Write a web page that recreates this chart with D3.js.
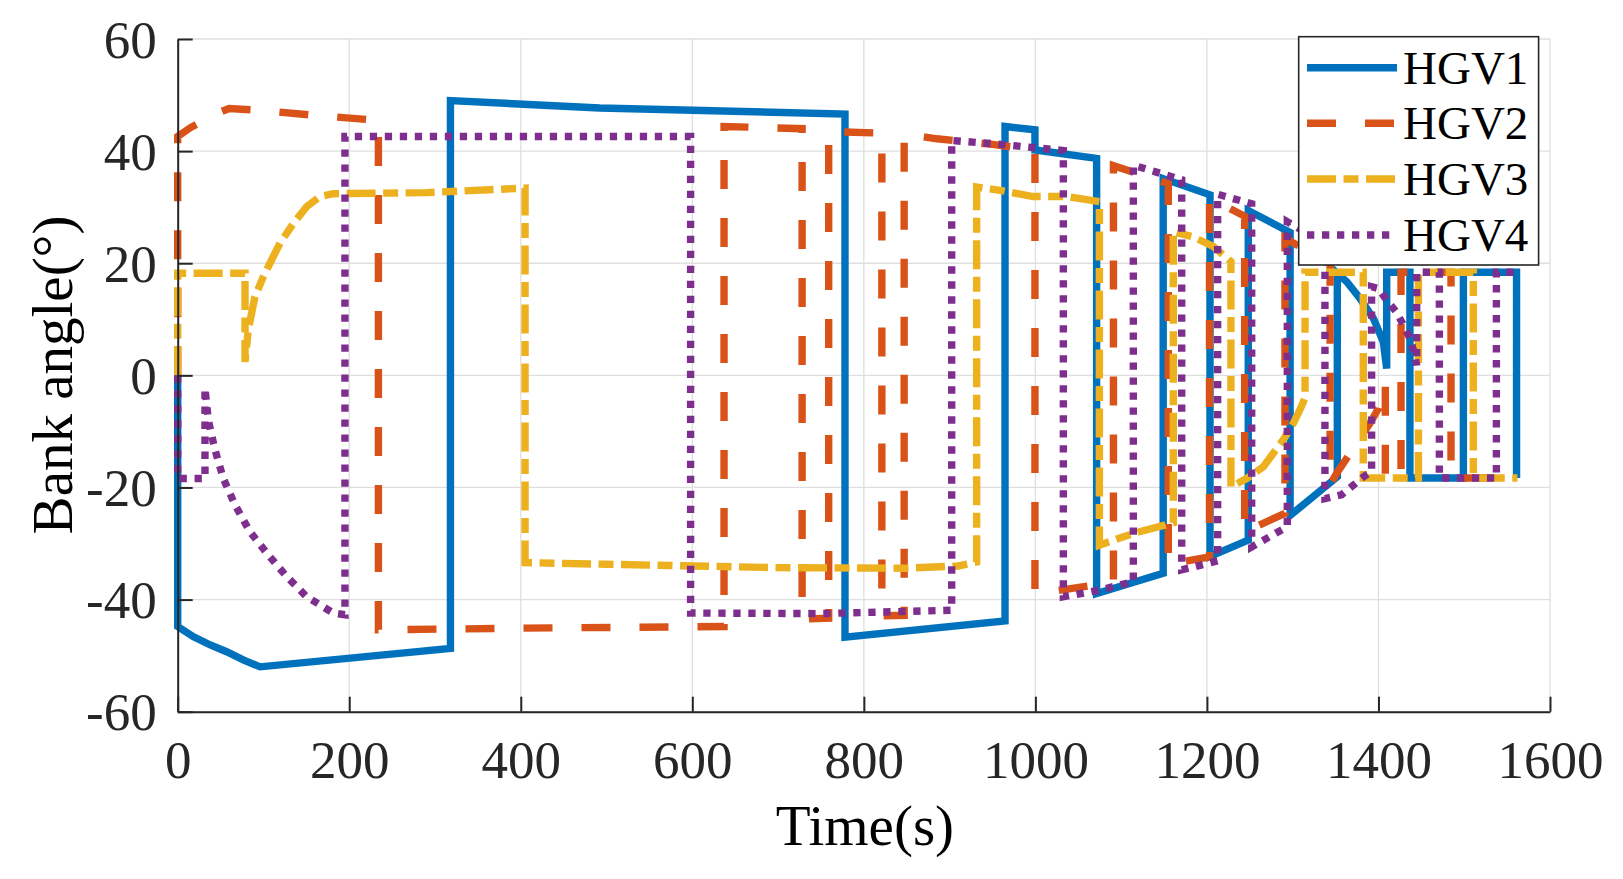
<!DOCTYPE html>
<html>
<head>
<meta charset="utf-8">
<script src="https://cdn.jsdelivr.net/npm/d3@7"></script>
<style>
  html, body { margin: 0; padding: 0; background: #fff; }
  svg { display: block; }
  text { font-family: "Liberation Serif", "Times New Roman", serif; }
</style>
</head>
<body>
<svg id="chart" width="1623" height="879"></svg>
<script>
// ---------------- data ----------------
const xTicks = [0, 200, 400, 600, 800, 1000, 1200, 1400, 1600];
const yTicks = [-60, -40, -20, 0, 20, 40, 60];
const seriesNames = ["HGV1", "HGV2", "HGV3", "HGV4"];

// [time (s), bank angle (deg)]
const hgv1 = [[0,0],[0,-44.8],[18,-46.6],[38,-48.1],[57,-49.3],[77,-50.8],[96,-52],[318,-48.7],[318,49],[492,47.7],[600,47.3],[778,46.6],[778,-46.7],[964.6,-43.8],[964.6,44.4],[999.5,43.8],[999.5,40.2],[1071.4,38.7],[1071.4,-38.9],[1149,-35.3],[1149,35.1],[1203.6,32.2],[1203.6,-32.3],[1248.2,-29.4],[1248.2,29.4],[1297,25.5],[1297,-25],[1352,-18.1],[1352,18.2],[1363,16.7],[1378.5,13.7],[1394,10.2],[1405.6,6],[1409.6,1.2],[1409.6,18.4],[1436.7,18.4],[1436.7,-18.3],[1499,-18.3],[1499,18.4],[1561,18.4],[1561,-18.3]];

const hgv2 = [[0,0],[0,42.6],[15,44.2],[30,45.4],[45,46.7],[60,47.6],[94,47.3],[158,46.4],[234,45.5],[234,-45.4],[400,-45.1],[637,-44.8],[637,44.4],[728,44.0],[728,-43.5],[759,-43.3],[759,43.5],[821,43.2],[821,-42.9],[847,-42.8],[847,43.1],[885,42.2],[950,41.2],[999.5,40.2],[999.5,-39],[1091,-36.9],[1091,37.4],[1155,34.2],[1155,-33.7],[1203,-32.4],[1203,31.6],[1244,28.4],[1244,-27.9],[1291,-24.6],[1291,24.5],[1343.6,19.8],[1343.6,-19.5],[1352,-17.3],[1363,-14.8],[1376.5,-11.5],[1390,-8.6],[1400,-5.9],[1408,-1.4],[1408,-18.3],[1426.3,-18.3],[1426.3,18.4],[1484.6,18.4],[1484.6,-18.3],[1561,-18.3]];

const hgv3 = [[0,0],[0,18.2],[78.5,18.2],[78.5,2.4],[82.3,8.1],[90,14],[99.8,17.6],[107.6,20],[119.3,23.6],[134.8,27.1],[150.4,30.1],[165.9,31.9],[181.4,32.4],[290,32.6],[405,33.4],[405,-33.4],[500,-33.7],[700,-34.3],[850,-34.4],[910,-34],[931.5,-33.3],[931.5,33.6],[959,33],[997,31.9],[1036,31.9],[1074.6,31],[1074.6,-30.3],[1114,-28.2],[1160.8,-26.3],[1160.8,25.6],[1184,24.7],[1207.4,23],[1228,20.3],[1228,-19.9],[1246.4,-18.4],[1265.7,-16.3],[1289,-11.5],[1300.7,-8.6],[1310,-5.6],[1314.4,-4],[1314.4,18.4],[1382.3,18.4],[1382.3,-18.3],[1446.6,-18.3],[1446.6,18.4],[1510.6,18.4],[1510.6,-18.3],[1562,-18.3]];

const hgv4 = [[0,0],[0,-18.4],[31.8,-18.4],[31.8,-2.3],[35.7,-8],[43.5,-13.3],[53.2,-18.4],[66.8,-23.1],[84.3,-27.9],[103.8,-31.7],[127.1,-35.9],[150.4,-39.5],[181.4,-42.4],[195,-42.7],[195,42.6],[598,42.6],[598,-42.4],[750,-42.5],[902.4,-41.9],[902.4,41.9],[960,41.2],[1032.6,40.1],[1032.6,-39.5],[1075,-38.3],[1114.2,-36.8],[1114.2,37.5],[1140,36.3],[1170.6,34.9],[1170.6,-34.7],[1212.5,-33.1],[1212.5,32.3],[1252.2,30.6],[1252.2,-30.6],[1293.7,-27],[1293.7,27.4],[1337.6,23.5],[1337.6,-22],[1357,-21.3],[1370.7,-19.6],[1384.3,-17.9],[1392,-17.2],[1392,15.8],[1400,15.5],[1409.6,13.4],[1420.4,11.4],[1429,9],[1436.7,6.6],[1441.4,4.2],[1444.6,1.8],[1444.6,18.4],[1471,18.4],[1471,-18.3],[1537.5,-18.3],[1537.5,18.4],[1560,18.4]];

// ---------------- styles ----------------
const seriesColors = ["#0072BD", "#D95319", "#EDB120", "#7E2F8E"];
const seriesDash = [null, "29,29", "29,7.5,15,7.5", "7.3,7.7"];
const seriesData = [hgv1, hgv2, hgv3, hgv4];

// ---------------- layout ----------------
const svg = d3.select("#chart");
const plot = { left: 177.7, right: 1550, top: 39, bottom: 711.7 };
const x = d3.scaleLinear().domain([0, 1600]).range([plot.left, plot.right]);
const y = d3.scaleLinear().domain([-60, 60]).range([plot.bottom, plot.top]);
const axisColor = "#262626";

// grid
const grid = svg.append("g");
grid.selectAll("line.gx").data(xTicks).enter().append("line")
  .attr("x1", d => x(d)).attr("x2", d => x(d))
  .attr("y1", plot.top).attr("y2", plot.bottom)
  .attr("stroke", "#DFDFDF").attr("stroke-width", 1.3);
grid.selectAll("line.gy").data(yTicks).enter().append("line")
  .attr("y1", d => y(d)).attr("y2", d => y(d))
  .attr("x1", plot.left).attr("x2", plot.right)
  .attr("stroke", "#DFDFDF").attr("stroke-width", 1.3);

// lines
const line = d3.line().x(d => x(d[0])).y(d => y(d[1]));
seriesData.forEach((data, i) => {
  const p = svg.append("path")
    .datum(data)
    .attr("d", line)
    .attr("fill", "none")
    .attr("stroke", seriesColors[i])
    .attr("stroke-width", 7.4)
    .attr("stroke-linejoin", "miter")
    .attr("stroke-miterlimit", 3);
  if (seriesDash[i]) p.attr("stroke-dasharray", seriesDash[i]);
});

// axes (MATLAB style: ticks inward, box off)
const xAxis = d3.axisBottom(x).tickValues(xTicks).tickSizeInner(-15).tickSizeOuter(0).tickPadding(28)
  .tickFormat(d3.format("d"));
const yAxis = d3.axisLeft(y).tickValues(yTicks).tickSizeInner(-15).tickSizeOuter(0).tickPadding(36)
  .tickFormat(d => String(d));

const gx = svg.append("g").attr("transform", `translate(0,${plot.bottom})`).call(xAxis);
const gy = svg.append("g").attr("transform", `translate(${plot.left},0)`).call(yAxis);
[gx, gy].forEach(g => {
  g.select(".domain").attr("stroke", axisColor).attr("stroke-width", 2);
  g.selectAll(".tick line").attr("stroke", axisColor).attr("stroke-width", 2);
  g.selectAll(".tick text")
    .attr("fill", axisColor)
    .style("font-family", '"Liberation Serif", "Times New Roman", serif')
    .style("font-size", "53px");
});
gx.selectAll(".tick text").attr("dy", "0.72em").attr("y", 28);
gy.selectAll(".tick text").attr("dy", "0.34em").attr("x", -21);

// axis labels
svg.append("text")
  .attr("x", x(800) + 1).attr("y", 845)
  .attr("text-anchor", "middle")
  .attr("fill", "#000")
  .style("font-size", "57px")
  .text("Time(s)");
svg.append("text")
  .attr("transform", "translate(72,375) rotate(-90)")
  .attr("text-anchor", "middle")
  .attr("fill", "#000")
  .style("font-size", "57px")
  .text("Bank angle(°)");

// legend
const leg = { x: 1298.7, y: 36.7, w: 239.9, h: 228.3, rowY: [67.7, 123.3, 179, 235] };
const lg = svg.append("g");
lg.append("rect")
  .attr("x", leg.x).attr("y", leg.y).attr("width", leg.w).attr("height", leg.h)
  .attr("fill", "#fff").attr("stroke", axisColor).attr("stroke-width", 1.6);
seriesNames.forEach((name, i) => {
  const ly = leg.rowY[i];
  const s = lg.append("line")
    .attr("x1", 1307).attr("x2", 1397).attr("y1", ly).attr("y2", ly)
    .attr("stroke", seriesColors[i]).attr("stroke-width", 7.4);
  if (seriesDash[i]) s.attr("stroke-dasharray", seriesDash[i]);
  lg.append("text")
    .attr("x", 1403).attr("y", ly + 16)
    .attr("fill", "#000")
    .style("font-size", "47px")
    .text(name);
});
</script>
</body>
</html>
